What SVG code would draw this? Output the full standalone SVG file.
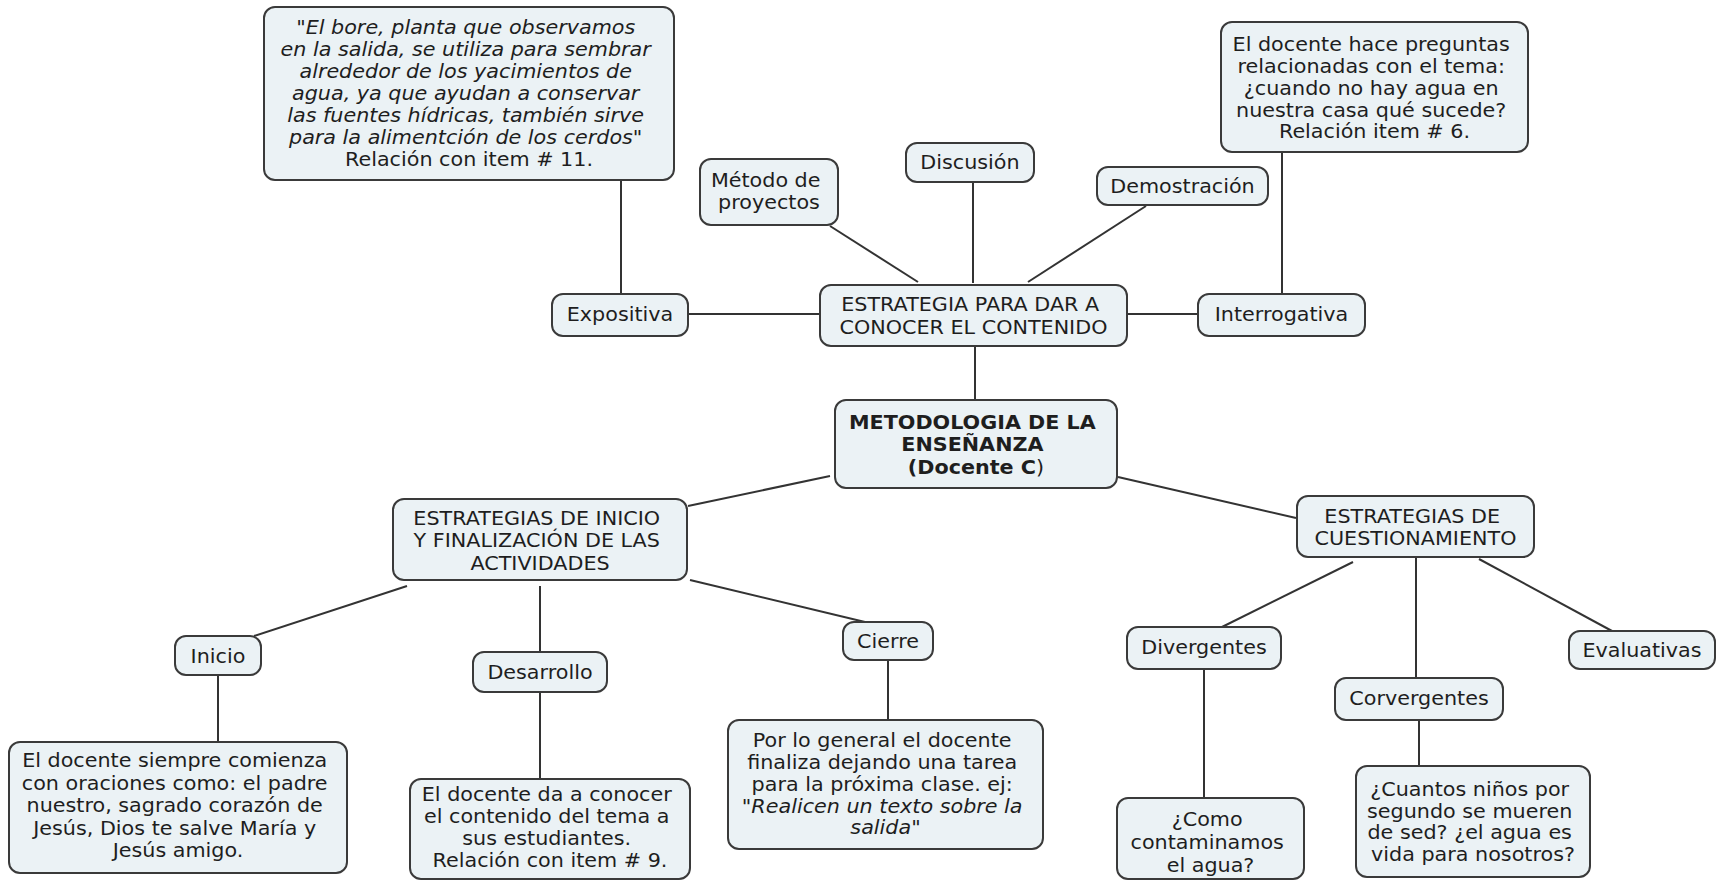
<svg xmlns="http://www.w3.org/2000/svg" width="1717" height="882" viewBox="0 0 1717 882">
  <style>
    .box { fill: #ebf2f5; stroke: #3a3a3a; stroke-width: 2; }
    .link { stroke: #333333; stroke-width: 2; fill: none; }
    text { font-family: "DejaVu Sans", Verdana, sans-serif; font-size: 19px; fill: #1e1e1e; text-anchor: middle;
           transform-box: fill-box; transform-origin: center; transform: scaleX(1.09); }
    .b { font-weight: bold; }
    .i { font-style: italic; }
    .n { font-weight: normal; }
  </style>
  <rect x="0" y="0" width="1717" height="882" fill="#ffffff"/>

  <!-- connectors -->
  <g id="connectors">
    <line class="link" x1="621" y1="180" x2="621" y2="293"/>
    <line class="link" x1="830" y1="226" x2="918" y2="282"/>
    <line class="link" x1="973" y1="182" x2="973" y2="283"/>
    <line class="link" x1="1146" y1="206" x2="1028" y2="282"/>
    <line class="link" x1="688" y1="314" x2="819" y2="314"/>
    <line class="link" x1="1128" y1="314" x2="1198" y2="314"/>
    <line class="link" x1="1282" y1="152" x2="1282" y2="293"/>
    <line class="link" x1="975" y1="346" x2="975" y2="399"/>
    <line class="link" x1="830" y1="476" x2="688" y2="506"/>
    <line class="link" x1="1118" y1="477" x2="1296" y2="518"/>
    <line class="link" x1="407" y1="586" x2="254" y2="636"/>
    <line class="link" x1="540" y1="586" x2="540" y2="652"/>
    <line class="link" x1="690" y1="580" x2="865" y2="622"/>
    <line class="link" x1="1353" y1="562" x2="1222" y2="627"/>
    <line class="link" x1="1416" y1="558" x2="1416" y2="678"/>
    <line class="link" x1="1479" y1="559" x2="1612" y2="631"/>
    <line class="link" x1="218" y1="675" x2="218" y2="742"/>
    <line class="link" x1="540" y1="692" x2="540" y2="779"/>
    <line class="link" x1="888" y1="660" x2="888" y2="720"/>
    <line class="link" x1="1204" y1="669" x2="1204" y2="798"/>
    <line class="link" x1="1419" y1="721" x2="1419" y2="766"/>
  </g>

  <g id="node-bore">
    <rect class="box" x="264" y="7" width="410" height="173" rx="11"/>
    <text class="i">
      <tspan x="469" y="34">"El bore, planta que observamos</tspan>
      <tspan x="469" y="56">en la salida, se utiliza para sembrar</tspan>
      <tspan x="469" y="78">alrededor de los yacimientos de</tspan>
      <tspan x="469" y="100">agua, ya que ayudan a conservar</tspan>
      <tspan x="469" y="122">las fuentes hídricas, también sirve</tspan>
      <tspan x="469" y="144">para la alimentción de los cerdos"</tspan>
      <tspan x="469" y="166" style="font-style:normal">Relación con item # 11.</tspan>
    </text>
  </g>

  <g id="node-preguntas">
    <rect class="box" x="1221" y="22" width="307" height="130" rx="11"/>
    <text>
      <tspan x="1374.5" y="51">El docente hace preguntas</tspan>
      <tspan x="1374.5" y="73">relacionadas con el tema:</tspan>
      <tspan x="1374.5" y="95">¿cuando no hay agua en</tspan>
      <tspan x="1374.5" y="117">nuestra casa qué sucede?</tspan>
      <tspan x="1374.5" y="138">Relación item # 6.</tspan>
    </text>
  </g>

  <g id="node-metodo">
    <rect class="box" x="700" y="159" width="138" height="66" rx="11"/>
    <text>
      <tspan x="769" y="187">Método de</tspan>
      <tspan x="769" y="209">proyectos</tspan>
    </text>
  </g>

  <g id="node-discusion">
    <rect class="box" x="906" y="143" width="128" height="39" rx="11"/>
    <text x="970" y="169">Discusión</text>
  </g>

  <g id="node-demostracion">
    <rect class="box" x="1097" y="167" width="171" height="38" rx="11"/>
    <text x="1182.5" y="193">Demostración</text>
  </g>

  <g id="node-expositiva">
    <rect class="box" x="552" y="294" width="136" height="42" rx="11"/>
    <text x="620" y="321">Expositiva</text>
  </g>

  <g id="node-estrategia">
    <rect class="box" x="820" y="285" width="307" height="61" rx="11"/>
    <text>
      <tspan x="973.5" y="311">ESTRATEGIA PARA DAR A</tspan>
      <tspan x="973.5" y="334">CONOCER EL CONTENIDO</tspan>
    </text>
  </g>

  <g id="node-interrogativa">
    <rect class="box" x="1198" y="294" width="167" height="42" rx="11"/>
    <text x="1281.5" y="321">Interrogativa</text>
  </g>

  <g id="node-metodologia">
    <rect class="box" x="835" y="400" width="282" height="88" rx="11"/>
    <text class="b">
      <tspan x="976" y="429">METODOLOGIA DE LA</tspan>
      <tspan x="976" y="451">ENSEÑANZA</tspan>
      <tspan x="976" y="474">(Docente C<tspan class="n">)</tspan></tspan>
    </text>
  </g>

  <g id="node-inicio-fin">
    <rect class="box" x="393" y="499" width="294" height="81" rx="11"/>
    <text>
      <tspan x="540" y="525">ESTRATEGIAS DE INICIO</tspan>
      <tspan x="540" y="547">Y FINALIZACIÓN DE LAS</tspan>
      <tspan x="540" y="570">ACTIVIDADES</tspan>
    </text>
  </g>

  <g id="node-cuestionamiento">
    <rect class="box" x="1297" y="496" width="237" height="61" rx="11"/>
    <text>
      <tspan x="1415.5" y="523">ESTRATEGIAS DE</tspan>
      <tspan x="1415.5" y="545">CUESTIONAMIENTO</tspan>
    </text>
  </g>

  <g id="node-inicio">
    <rect class="box" x="175" y="636" width="86" height="39" rx="11"/>
    <text x="218" y="663">Inicio</text>
  </g>

  <g id="node-desarrollo">
    <rect class="box" x="473" y="652" width="134" height="40" rx="11"/>
    <text x="540" y="679">Desarrollo</text>
  </g>

  <g id="node-cierre">
    <rect class="box" x="843" y="622" width="90" height="38" rx="11"/>
    <text x="888" y="648">Cierre</text>
  </g>

  <g id="node-divergentes">
    <rect class="box" x="1127" y="627" width="154" height="42" rx="11"/>
    <text x="1204" y="654">Divergentes</text>
  </g>

  <g id="node-corvergentes">
    <rect class="box" x="1335" y="678" width="168" height="42" rx="11"/>
    <text x="1419" y="705">Corvergentes</text>
  </g>

  <g id="node-evaluativas">
    <rect class="box" x="1569" y="631" width="146" height="38" rx="11"/>
    <text x="1642" y="657">Evaluativas</text>
  </g>

  <g id="node-inicio-texto">
    <rect class="box" x="9" y="742" width="338" height="131" rx="11"/>
    <text>
      <tspan x="178" y="767">El docente siempre comienza</tspan>
      <tspan x="178" y="790">con oraciones como: el padre</tspan>
      <tspan x="178" y="812">nuestro, sagrado corazón de</tspan>
      <tspan x="178" y="835">Jesús, Dios te salve María y</tspan>
      <tspan x="178" y="857">Jesús amigo.</tspan>
    </text>
  </g>

  <g id="node-desarrollo-texto">
    <rect class="box" x="410" y="779" width="280" height="100" rx="11"/>
    <text>
      <tspan x="550" y="801">El docente da a conocer</tspan>
      <tspan x="550" y="823">el contenido del tema a</tspan>
      <tspan x="550" y="845">sus estudiantes.</tspan>
      <tspan x="550" y="867">Relación con item # 9.</tspan>
    </text>
  </g>

  <g id="node-cierre-texto">
    <rect class="box" x="728" y="720" width="315" height="129" rx="11"/>
    <text>
      <tspan x="885.5" y="747">Por lo general el docente</tspan>
      <tspan x="885.5" y="769">finaliza dejando una tarea</tspan>
      <tspan x="885.5" y="791">para la próxima clase. ej:</tspan>
      <tspan x="885.5" y="813" class="i">"Realicen un texto sobre la</tspan>
      <tspan x="885.5" y="834" class="i">salida"</tspan>
    </text>
  </g>

  <g id="node-contaminamos">
    <rect class="box" x="1117" y="798" width="187" height="81" rx="11"/>
    <text>
      <tspan x="1210.5" y="826">¿Como</tspan>
      <tspan x="1210.5" y="849">contaminamos</tspan>
      <tspan x="1210.5" y="872">el agua?</tspan>
    </text>
  </g>

  <g id="node-cuantos">
    <rect class="box" x="1356" y="766" width="234" height="111" rx="11"/>
    <text>
      <tspan x="1473" y="796">¿Cuantos niños por</tspan>
      <tspan x="1473" y="818">segundo se mueren</tspan>
      <tspan x="1473" y="839">de sed? ¿el agua es</tspan>
      <tspan x="1473" y="861">vida para nosotros?</tspan>
    </text>
  </g>
</svg>
